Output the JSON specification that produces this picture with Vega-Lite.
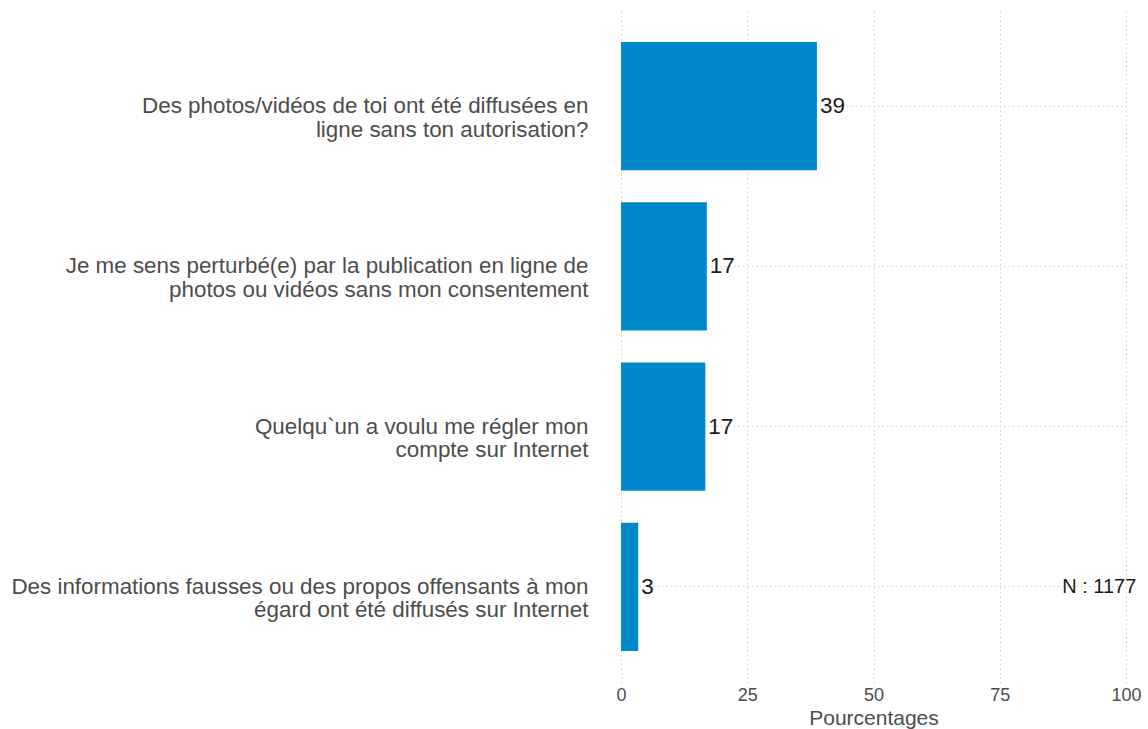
{
  "$schema": "https://vega.github.io/schema/vega-lite/v6.json",
  "autosize": "none",
  "padding": {"left": 621, "top": 10, "right": 22, "bottom": 46},
  "width": 505,
  "height": 673,
  "background": "white",
  "config": {
    "font": "Liberation Sans",
    "view": {"stroke": null}
  },
  "layer": [
    {
      "data": {
        "values": [
          {"q": "Des photos/vidéos de toi ont été diffusées en\nligne sans ton autorisation?", "pct": 38.8},
          {"q": "Je me sens perturbé(e) par la publication en ligne de\nphotos ou vidéos sans mon consentement", "pct": 17.0},
          {"q": "Quelqu`un a voulu me régler mon\ncompte sur Internet", "pct": 16.7},
          {"q": "Des informations fausses ou des propos offensants à mon\négard ont été diffusés sur Internet", "pct": 3.4}
        ]
      },
      "encoding": {
        "y": {
          "field": "q",
          "type": "nominal",
          "sort": null,
          "scale": {"paddingInner": 0.2, "paddingOuter": 0.2},
          "axis": {
            "title": null,
            "labelExpr": "split(datum.label, '\\n')",
            "labelFontSize": 22.4,
            "labelColor": "#4d4d4d",
            "labelLineHeight": 23.5,
            "labelPadding": 33,
            "labelLimit": 700,
            "ticks": false,
            "tickSize": 0,
            "domain": false,
            "grid": true,
            "gridColor": "#cfcfcf",
            "gridDash": [1.5, 3],
            "gridWidth": 1
          }
        },
        "x": {
          "field": "pct",
          "type": "quantitative",
          "scale": {"domain": [0, 100], "nice": false, "zero": true},
          "axis": {
            "title": "Pourcentages",
            "values": [0, 25, 50, 75, 100],
            "labelFontSize": 18,
            "labelColor": "#4d4d4d",
            "labelPadding": 3,
            "labelFlush": false,
            "titleFontSize": 21,
            "titleFontWeight": "normal",
            "titleColor": "#4d4d4d",
            "titlePadding": 3,
            "ticks": false,
            "tickSize": 0,
            "domain": false,
            "grid": true,
            "gridColor": "#cfcfcf",
            "gridDash": [1.5, 3],
            "gridWidth": 1
          }
        }
      },
      "layer": [
        {"mark": {"type": "bar", "color": "#0088cc"}},
        {
          "mark": {"type": "text", "align": "left", "baseline": "middle", "dx": 3, "fontSize": 22.5, "color": "#1a1a1a"},
          "encoding": {"text": {"field": "pct", "type": "quantitative", "format": ".0f"}}
        }
      ]
    },
    {
      "data": {"values": [{"q": "Des informations fausses ou des propos offensants à mon\négard ont été diffusés sur Internet", "x": 94.7, "t": "N : 1177"}]},
      "mark": {"type": "text", "align": "center", "baseline": "middle", "fontSize": 20, "color": "#1a1a1a"},
      "encoding": {
        "y": {"field": "q", "type": "nominal", "sort": null},
        "x": {"field": "x", "type": "quantitative"},
        "text": {"field": "t"}
      }
    }
  ]
}
